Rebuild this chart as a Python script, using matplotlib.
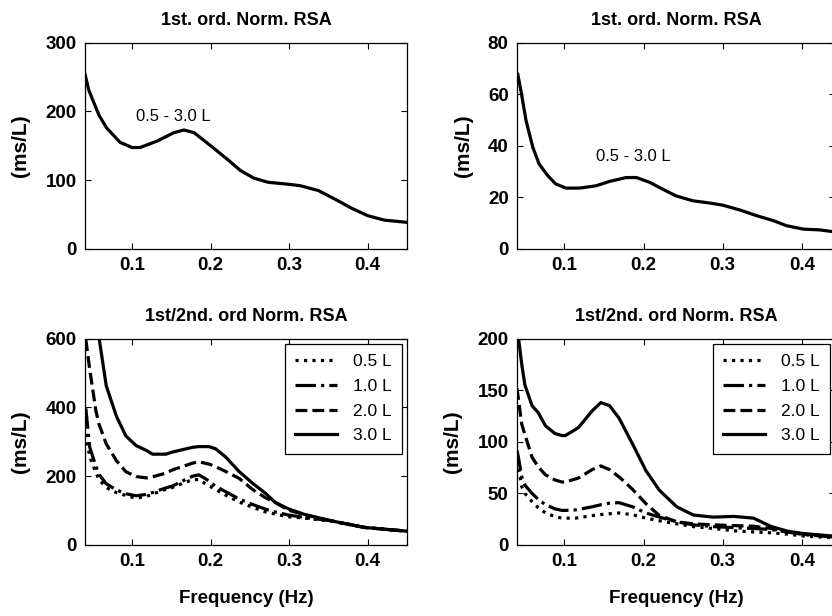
import numpy as np
import matplotlib.pyplot as plt

plt.rcParams['font.family'] = ['Liberation Sans', 'DejaVu Sans']

# top-left: 1st order normalised RSA (0.5 - 3.0 L)
f_tl = [0.040, 0.0445, 0.0504, 0.058, 0.0675, 0.0846, 0.100, 0.110, 0.132, 0.153,
        0.166, 0.179, 0.200, 0.221, 0.238, 0.255, 0.273, 0.300, 0.314, 0.337,
        0.358, 0.379, 0.400, 0.421, 0.450]
rsa_tl = [254, 232, 215, 194, 176, 155, 147.5, 147.5, 157, 169,
          173, 169, 150, 130.6, 114, 103, 97, 94, 92, 85,
          72.6, 59.5, 48.4, 42, 38.7]

# top-right
f_tr = [0.041, 0.045, 0.0515, 0.060, 0.068, 0.079, 0.089, 0.102, 0.119, 0.140,
        0.157, 0.178, 0.191, 0.208, 0.224, 0.241, 0.262, 0.284, 0.300, 0.322,
        0.343, 0.364, 0.381, 0.402, 0.423, 0.442]
rsa_tr = [67.7, 61.3, 49.7, 39.4, 32.9, 28.4, 25.2, 23.6, 23.6, 24.5,
          26.2, 27.7, 27.7, 25.8, 23.2, 20.6, 18.7, 17.8, 17.0, 15.1,
          12.9, 11.0, 9.0, 7.7, 7.4, 6.6]

# bottom-left: 1st/2nd order, per volume
f_bl = [0.041, 0.046, 0.054, 0.058, 0.067, 0.080, 0.092, 0.105, 0.118, 0.126,
        0.143, 0.151, 0.164, 0.177, 0.185, 0.198, 0.206, 0.219, 0.236, 0.253,
        0.270, 0.282, 0.299, 0.320, 0.354, 0.396, 0.450]
bl_05 = [323, 256, 209, 190, 167, 152, 144, 136, 141, 148,
         162, 167, 179, 190, 190, 172, 162, 145, 125, 110,
         96, 90, 82, 78, 69, 51, 40]
bl_10 = [397, 284, 228, 205, 178, 160, 149, 143, 147, 152.5,
         166, 171, 186, 200, 204, 186, 171, 155, 134, 118,
         104, 96, 87, 80, 70, 51, 40]
bl_20 = [598, 510, 388, 350, 294, 245, 213, 199, 195, 198,
         209, 218, 228, 238, 242, 235, 228, 214, 194, 162,
         137, 124, 101, 88, 70, 51, 40]
bl_30 = [900, 800, 680, 600, 463, 374, 317, 289, 275, 264,
         264, 270, 277, 284, 286, 286, 280, 256, 214, 180,
         150, 124, 105, 88.5, 70, 51, 40]

# bottom-right
f_br = [0.040, 0.042, 0.046, 0.050, 0.059, 0.067, 0.076, 0.088, 0.097, 0.101,
        0.114, 0.118, 0.135, 0.146, 0.157, 0.169, 0.186, 0.203, 0.220, 0.242,
        0.263, 0.288, 0.314, 0.339, 0.361, 0.382, 0.403, 0.442]
br_05 = [82, 75, 56.5, 50, 42, 36, 31, 27.5, 26, 26,
         26, 26.5, 28.4, 29.5, 30.3, 31, 29.3, 26, 23.5, 20.5,
         17.8, 16, 13.8, 12.6, 11.8, 10.5, 8.6, 6.9]
br_10 = [91.5, 84, 66, 58, 50, 44, 39, 35, 33.5, 33.5,
         34, 34.5, 37, 39, 40.5, 41, 37, 31, 27, 22.5,
         19.5, 17.8, 16.8, 16, 15, 12.5, 10, 7.7]
br_20 = [152, 140, 117, 107, 85, 75.6, 68, 63, 61, 61,
         64, 65, 73, 76.6, 73, 66, 54, 40, 28.5, 22.5,
         20.5, 19.5, 18.8, 18.2, 16, 12.8, 10.5, 7.9]
br_30 = [230, 200, 175, 155, 135, 128, 115.5, 108, 106, 106,
         112, 114, 130, 138, 135, 123, 98, 72, 53, 37,
         29, 27, 27.7, 26, 18, 13.4, 11, 8.5]

vol_labels = ['0.5 L', '1.0 L', '2.0 L', '3.0 L']
styles = [':', '-.', '--', '-']

H = 0.335
pos = {'tl': [0.1022, 0.5958, 0.387, H], 'tr': [0.6214, 0.5958, 0.3822, H],
       'bl': [0.1022, 0.1153, 0.387, H], 'br': [0.6214, 0.1153, 0.3822, H]}
xmax = {'tl': 0.45, 'bl': 0.45, 'tr': 0.442, 'br': 0.442}

fig = plt.figure(figsize=(8.32, 6.16), dpi=100)


def setup(ax, key, title, ylim, yticks):
    ax.set_xlim(0.04, xmax[key])
    ax.set_ylim(*ylim)
    ax.set_xticks([0.1, 0.2, 0.3, 0.4])
    ax.set_xticklabels(['0.1', '0.2', '0.3', '0.4'])
    ax.set_yticks(yticks)
    ax.tick_params(direction='in', top=True, right=True, length=4, width=0.8,
                   labelsize=13.5, pad=6)
    for lab in ax.get_xticklabels() + ax.get_yticklabels():
        lab.set_fontweight('bold')
    for s in ax.spines.values():
        s.set_linewidth(0.9)
    ax.set_title(title, fontsize=13, fontweight='bold', pad=13)
    ax.set_ylabel('(ms/L)', fontsize=15, fontweight='bold', labelpad=11)


ax = fig.add_axes(pos['tl'])
ax.plot(f_tl, rsa_tl, color='black', lw=2.3)
ax.text(0.152, 193, '0.5 - 3.0 L', ha='center', va='center', fontsize=12)
setup(ax, 'tl', '1st. ord. Norm. RSA', (0, 300), [0, 100, 200, 300])

ax = fig.add_axes(pos['tr'])
ax.plot(f_tr, rsa_tr, color='black', lw=2.3)
ax.text(0.187, 35.7, '0.5 - 3.0 L', ha='center', va='center', fontsize=12)
setup(ax, 'tr', '1st. ord. Norm. RSA', (0, 80), [0, 20, 40, 60, 80])

for key, ys, ylim, yticks in [('bl', [bl_05, bl_10, bl_20, bl_30], (0, 600), [0, 200, 400, 600]),
                              ('br', [br_05, br_10, br_20, br_30], (0, 200), [0, 50, 100, 150, 200])]:
    ax = fig.add_axes(pos[key])
    fx = f_bl if key == 'bl' else f_br
    for y, ls, lab in zip(ys, styles, vol_labels):
        ax.plot(fx, y, color='black', lw=2.3, ls=ls, label=lab)
    setup(ax, key, '1st/2nd. ord Norm. RSA', ylim, yticks)
    ax.set_xlabel('Frequency (Hz)', fontsize=13.5, fontweight='bold', labelpad=14)
    leg = ax.legend(loc='upper right', fontsize=12.5, fancybox=False, framealpha=1,
                    edgecolor='black', handlelength=2.4, borderaxespad=0.3,
                    labelspacing=0.55, handletextpad=0.9, borderpad=0.6)
    leg.get_frame().set_linewidth(0.9)

fig.savefig('out.png', dpi=100)
